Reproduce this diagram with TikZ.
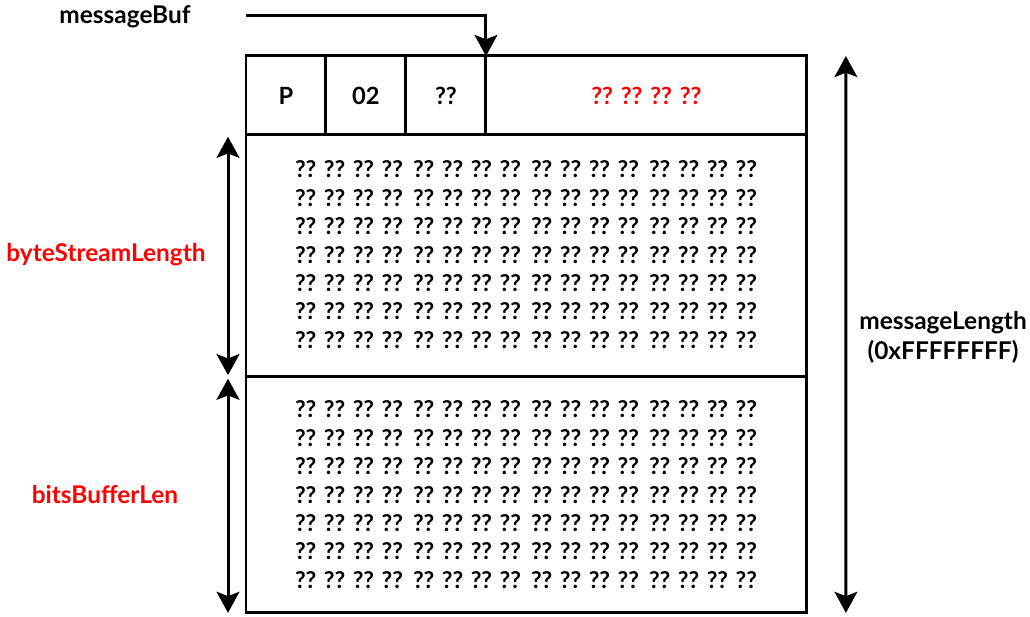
\documentclass[tikz,border=0pt]{standalone}
\usepackage{fontspec}
\setmainfont{Lato}
\usetikzlibrary{arrows.meta,positioning}

\tikzset{
  box/.style={draw, line width=1.7pt, inner sep=0pt, outer sep=0pt, anchor=north west,
    font=\bfseries\fontsize{13.5}{15}\selectfont},
  hexrow/.style={font=\bfseries\fontsize{13.2}{15}\selectfont, inner sep=0pt},
  lbl/.style={font=\bfseries\fontsize{13.9}{17}\selectfont, align=center},
}

\begin{document}
\begin{tikzpicture}[x=0.02cm, y=-0.02cm, line width=1.7pt,
    >={Stealth[length=12pt, width=13pt, inset=2.5pt]}]
\useasboundingbox (0,0) rectangle (1030,617);

% header of the message
\node[box, minimum width=1.6cm, minimum height=1.58cm] (p) at (246,56) {P};
\node[box, minimum width=1.6cm, minimum height=1.58cm] (ver) at (p.north east) {02};
\node[box, minimum width=1.6cm, minimum height=1.58cm] (flag) at (ver.north east) {??};
\node[box, minimum width=6.42cm, minimum height=1.58cm, text=red] (len) at (flag.north east) {?? ?? ?? ??};

% byte stream and bits buffer
\node[box, minimum width=11.22cm, minimum height=4.84cm] (stream) at (p.south west) {};
\node[box, minimum width=11.22cm, minimum height=4.72cm] (bits) at (stream.south west) {};

\foreach \r in {0,...,6}
  \foreach \g in {0,...,3} {
    \node[hexrow] (s\r\g) at (349+118*\g, 169.5+28.4*\r) {?? ?? ?? ??};
    \node[hexrow] (b\r\g) at (349+118*\g, 409.5+28.4*\r) {?? ?? ?? ??};
  }

% pointer
\node[lbl] (mbuf) at (125,17) {messageBuf};
\coordinate (mbufstart) at (246,16);
\draw[->] (mbufstart) -| (len.north west);

% lengths
\coordinate[left=0.36cm of stream.north west] (bsTop);
\coordinate[left=0.36cm of stream.south west] (bsBot);
\coordinate[left=0.36cm of bits.north west] (bbTop);
\coordinate[left=0.36cm of bits.south west] (bbBot);
\draw[<->, shorten <=1pt, shorten >=1pt] (bsTop) -- (bsBot);
\draw[<->, shorten <=1pt] (bbTop) -- (bbBot);
\node[lbl, text=red] (bsl) at (106,255) {byteStreamLength};
\node[lbl, text=red] (bbl) at (105,495) {bitsBufferLen};

\coordinate[right=0.78cm of len.north east] (mlTop);
\coordinate[right=0.78cm of bits.south east] (mlBot);
\draw[<->] (mlTop) -- (mlBot);
\node[lbl] (mlen) at (943,337) {messageLength\\(0xFFFFFFFF)};
\end{tikzpicture}
\end{document}
